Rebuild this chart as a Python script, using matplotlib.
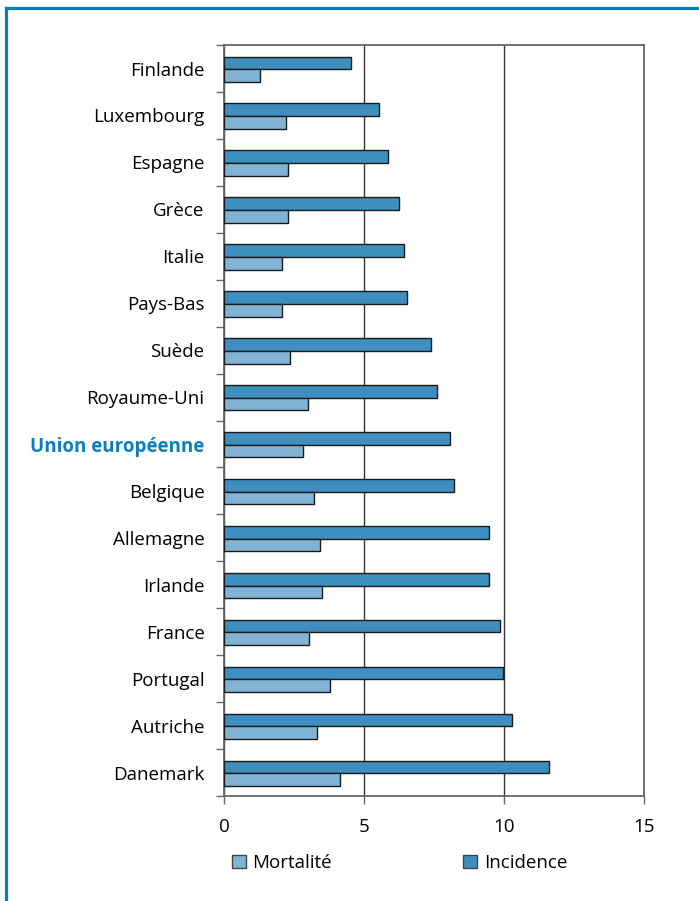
import numpy as np
import matplotlib.pyplot as plt
from matplotlib.lines import Line2D
from matplotlib.patches import Patch

plt.rcParams['font.family'] = ['Open Sans', 'DejaVu Sans']

countries = ['Finlande', 'Luxembourg', 'Espagne', 'Grèce', 'Italie', 'Pays-Bas',
             'Suède', 'Royaume-Uni', 'Union européenne', 'Belgique', 'Allemagne',
             'Irlande', 'France', 'Portugal', 'Autriche', 'Danemark']
incidence = [4.54, 5.54, 5.86, 6.25, 6.43, 6.54, 7.39, 7.61, 8.07, 8.21,
             9.46, 9.46, 9.86, 9.96, 10.29, 11.6]
mortalite = [1.29, 2.21, 2.29, 2.29, 2.07, 2.07, 2.36, 3.0, 2.82, 3.21,
             3.43, 3.5, 3.04, 3.79, 3.32, 4.14]

inc_color = '#3e8fbf'
mort_color = '#80b3d4'
blue = '#0a7fbf'
fs = 13.5

fig = plt.figure(figsize=(6.99, 9.01), dpi=100)
ax = fig.add_axes([0.3205, 0.1165, 0.6009, 0.8335])

y = np.arange(len(countries))
h = 0.27
ax.barh(y - 0.12, incidence, height=h, color=inc_color, edgecolor='#1a1a1a', linewidth=1, zorder=3)
ax.barh(y + 0.15, mortalite, height=h, color=mort_color, edgecolor='#1a1a1a', linewidth=1, zorder=3)

ax.set_xlim(0, 15)
ax.set_ylim(len(countries) - 0.5, -0.5)
ax.set_xticks([0, 5, 10, 15])
ax.xaxis.grid(True, color='#333333', linewidth=1, zorder=0)

ax.set_yticks(y)
ax.set_yticklabels(countries)
ax.set_yticks(np.arange(len(countries) + 1) - 0.5, minor=True)
ax.tick_params(axis='y', which='major', length=0, pad=14, labelsize=fs)
ax.tick_params(axis='y', which='minor', length=6, width=1, color='#666666')
ax.tick_params(axis='x', length=6, width=1, color='#666666', pad=10, labelsize=fs)

for lbl in ax.get_yticklabels():
    if lbl.get_text() == 'Union européenne':
        lbl.set_color(blue)
        lbl.set_fontweight('bold')

for s in ax.spines.values():
    s.set_color('#666666')
    s.set_linewidth(1.3)

handles = [Patch(facecolor=mort_color, edgecolor='#444444'),
           Patch(facecolor=inc_color, edgecolor='#444444')]
fig.legend(handles, ['Mortalité', 'Incidence'], ncol=2, frameon=False,
           loc='center left', bbox_to_anchor=(0.321, 1 - 863 / 901),
           fontsize=fs, handlelength=0.75, handleheight=0.75, handletextpad=0.35,
           columnspacing=7.0, borderaxespad=0)

# blue frame on top and left
fig.add_artist(Line2D([6 / 699, 1], [1 - 8 / 901, 1 - 8 / 901], color=blue, lw=2.3))
fig.add_artist(Line2D([6 / 699, 6 / 699], [0, 1 - 8 / 901], color=blue, lw=2.3))

fig.savefig('out.png', dpi=100)
